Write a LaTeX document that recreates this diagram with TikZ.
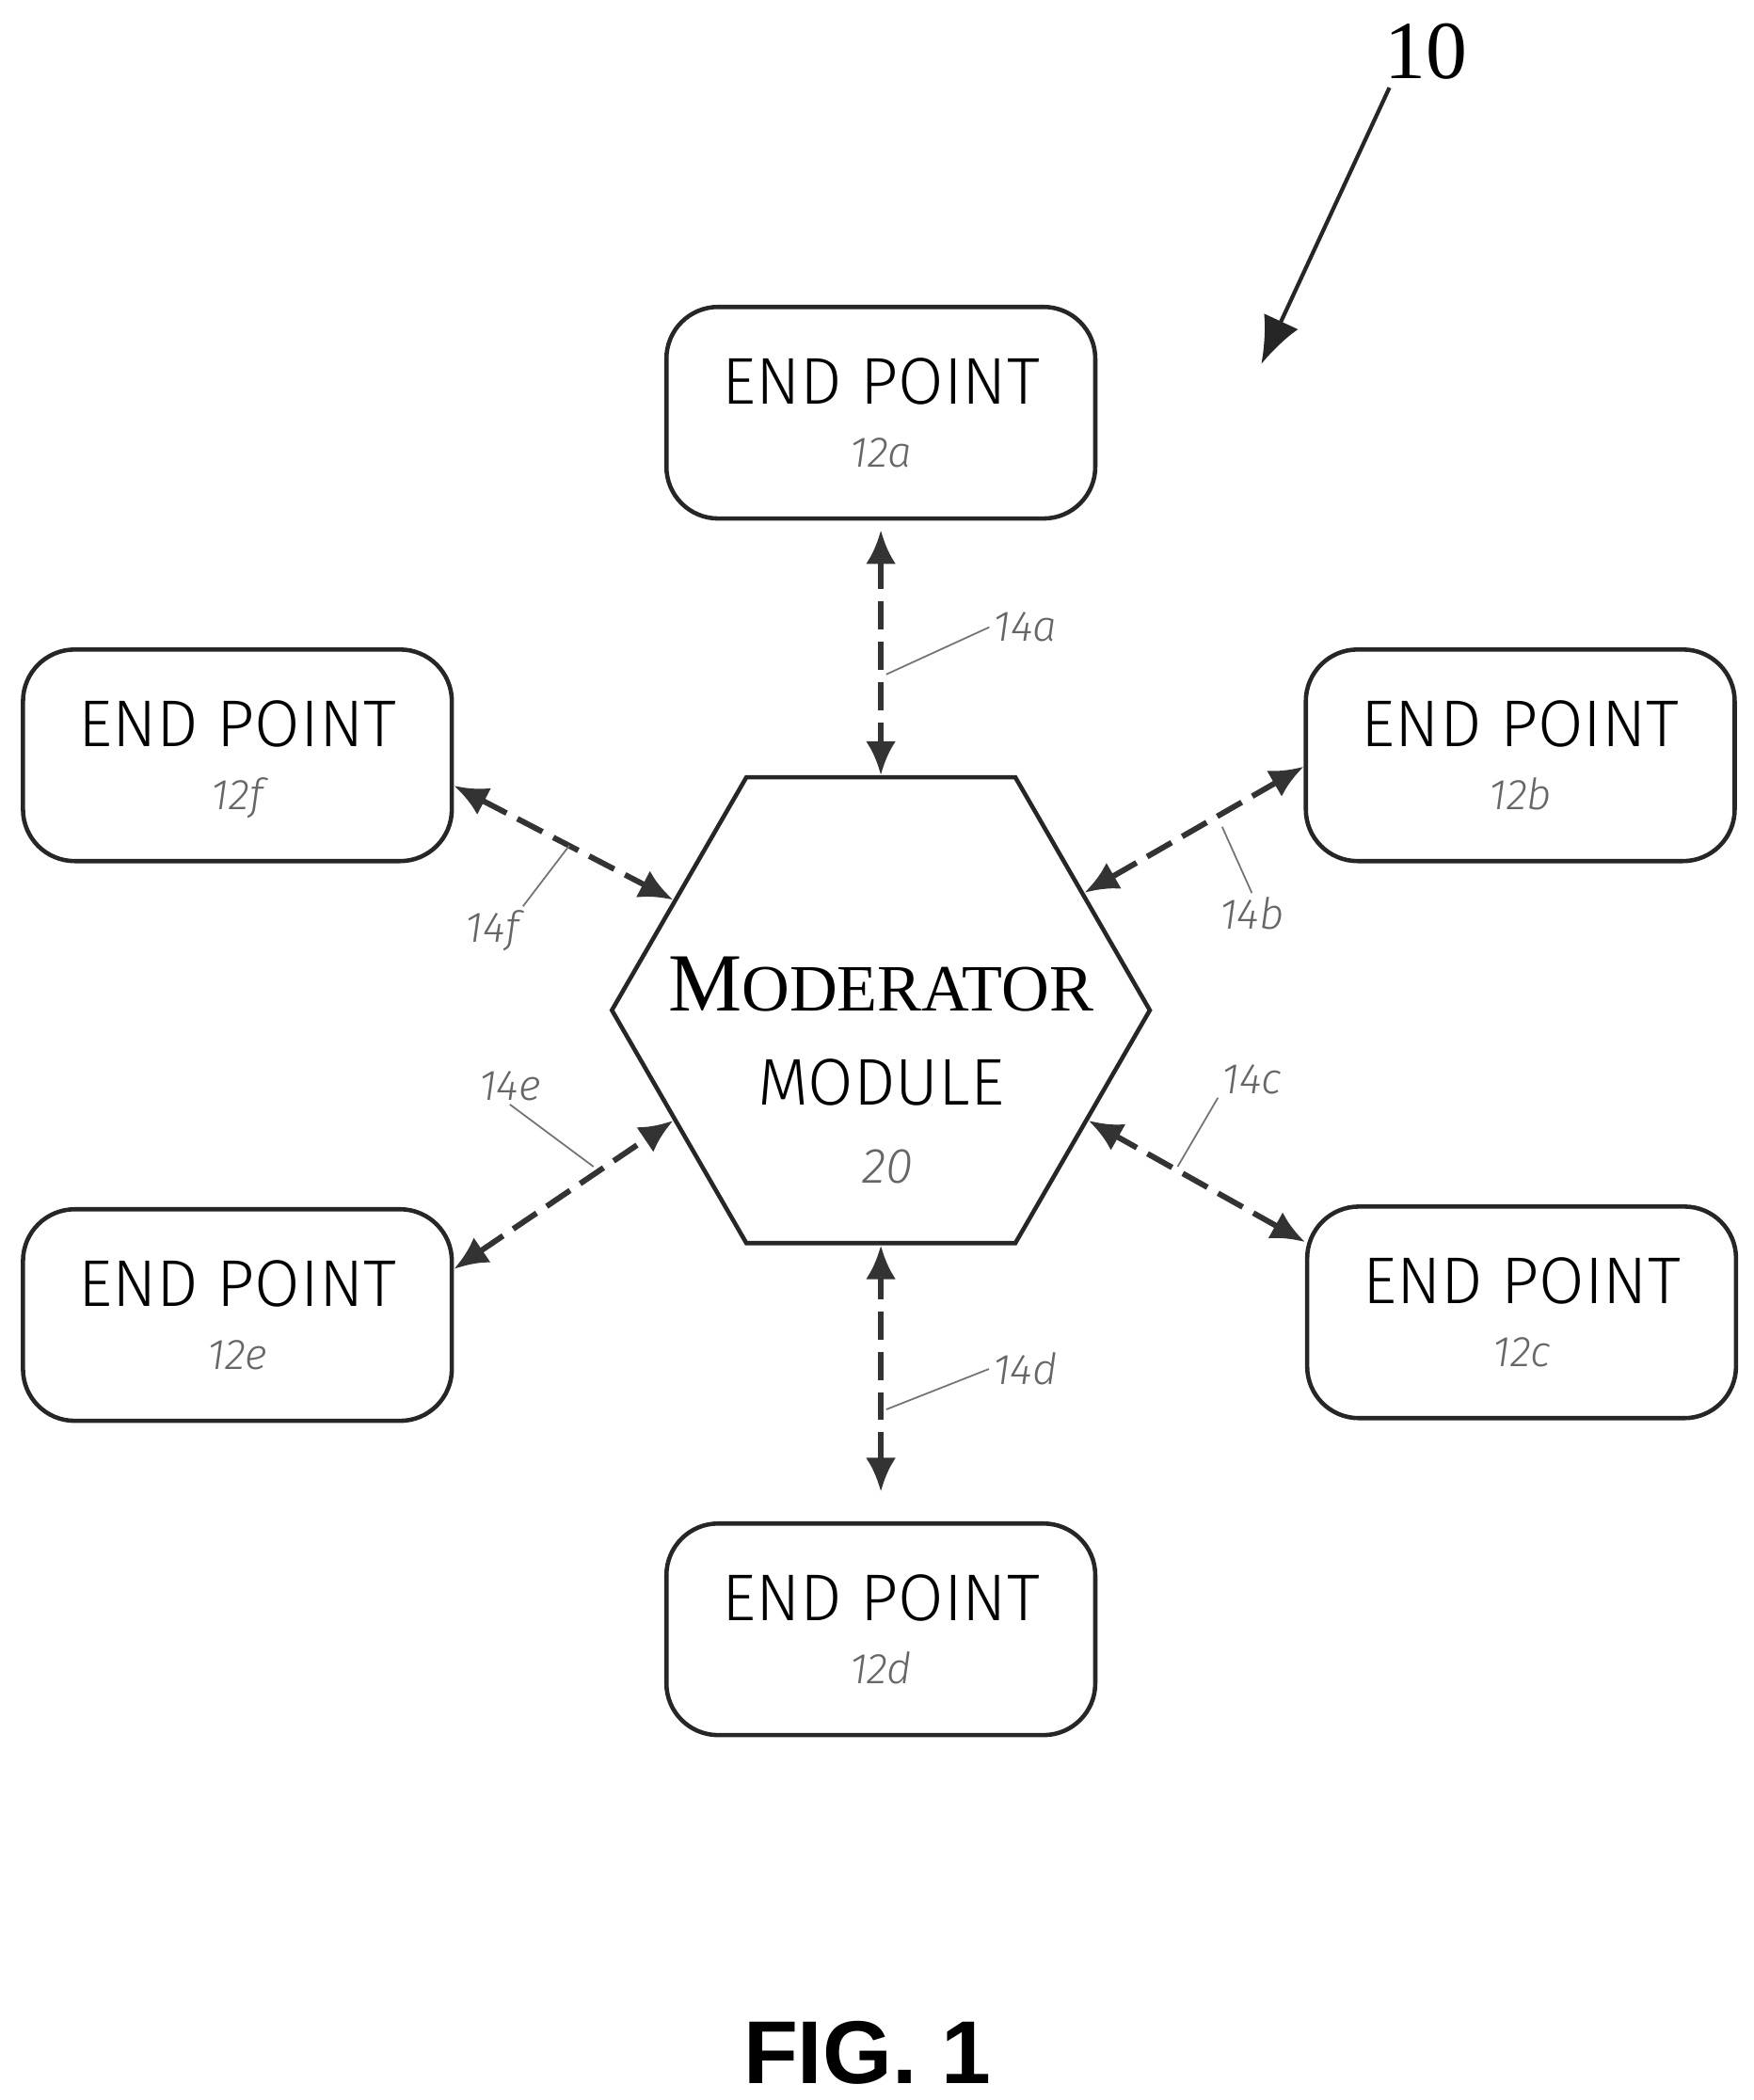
\documentclass[tikz,border=0pt]{standalone}
\usepackage{fontspec}
\setmainfont{Liberation Serif}
\setsansfont{Fira Sans Light}
\usetikzlibrary{positioning,arrows.meta,shapes.geometric}
\begin{document}
\begin{tikzpicture}[x={0.01434cm},y={-0.01434cm},
    end point/.style={draw=black!85,line width=1.3pt,rounded corners=0.55cm,
      minimum width=4.56cm,minimum height=2.25cm,align=center,
      font=\sffamily\fontsize{20}{22}\selectfont},
    link/.style={black!80,line width=1.7pt,dash pattern=on 3mm off 1.3mm,
      {Latex[length=3.6mm,width=3.2mm]}-{Latex[length=3.6mm,width=3.2mm]}},
    lead/.style={black!55,line width=0.5pt},
    ref/.style={black!60,font=\sffamily\itshape\fontsize{13}{15}\selectfont,inner sep=1pt}]
    \useasboundingbox (0,0) rectangle (1300,1557);
    %% Nodes
    \newcommand{\ep}[1]{END POINT\\[-3pt]{\color{black!60}\itshape\fontsize{13}{15}\selectfont #1}}
    \node (ep12a) at (653,306) [end point, text depth=-10pt] {\ep{12a}};
    \node (ep12b) at (1127,560) [end point, text depth=-10pt] {\ep{12b}};
    \node (ep12c) at (1128,973) [end point, text depth=-10pt] {\ep{12c}};
    \node (ep12d) at (653,1208) [end point, text depth=-10pt] {\ep{12d}};
    \node (ep12e) at (176,975) [end point, text depth=-10pt] {\ep{12e}};
    \node (ep12f) at (176,560) [end point, text depth=-10pt] {\ep{12f}};

    \node (mod) at (653,749) [draw=black!85,line width=1.3pt,regular polygon,regular polygon sides=6,
      minimum size=5.72cm,inner sep=0pt] {};
    \node (mod_title) at (653,730) {\fontsize{25}{28}\selectfont M\fontsize{20}{22}\selectfont ODERATOR};
    \node (mod_sub) [below=0.25cm of mod_title, font=\sffamily\fontsize{20}{22}\selectfont] {MODULE};
    \node (mod_ref) at (658,865) [ref, font=\sffamily\itshape\fontsize{15}{18}\selectfont] {20};

    %% Edges
    \draw[link] (ep12a.south) ++(0,7) coordinate (a1) -- (mod.north);
    \draw[link] (ep12d.north) ++(0,-22) coordinate (d1) -- (mod.south);
    \draw[link] (ep12f.-8) -- (mod.152);
    \draw[link] (ep12b.183) -- (mod.30);
    \draw[link] (ep12e.12) -- (mod.208);
    \draw[link] (ep12c.162) -- (mod.-28);

    % Leaders
    \node (l14a) at (760,465) [ref] {14a};
    \node (l14b) at (928,677) [ref] {14b};
    \node (l14c) at (928,800) [ref] {14c};
    \node (l14d) at (760,1015) [ref] {14d};
    \node (l14e) at (378,805) [ref] {14e};
    \node (l14f) at (365,690) [ref] {14f};
    \coordinate (c14a) at (657,500);
    \coordinate (c14b) at (906,613);
    \coordinate (c14c) at (873,865);
    \coordinate (c14d) at (657,1045);
    \coordinate (c14e) at (440,865);
    \coordinate (c14f) at (422,627);
    \draw[lead] (c14a) -- (l14a.west);
    \draw[lead] (c14b) -- (l14b.north);
    \draw[lead] (c14c) -- (l14c.south west);
    \draw[lead] (c14d) -- (l14d.west);
    \draw[lead] (c14e) -- (l14e.south);
    \draw[lead] (c14f) -- (l14f.north east);

    % Reference
    \node (sys) at (1057,38) [font=\fontsize{25}{30}\selectfont] {10};
    \coordinate (sys_tip) at (935,270);
    \draw[black!85,line width=1.2pt,-{Latex[length=5mm,width=4mm]}] (1030,65) -- (sys_tip);

    \node (fig) at (643,1522) [font=\fontsize{27}{30}\selectfont\bfseries\fontspec{Liberation Sans}] {FIG. 1};
\end{tikzpicture}
\end{document}
